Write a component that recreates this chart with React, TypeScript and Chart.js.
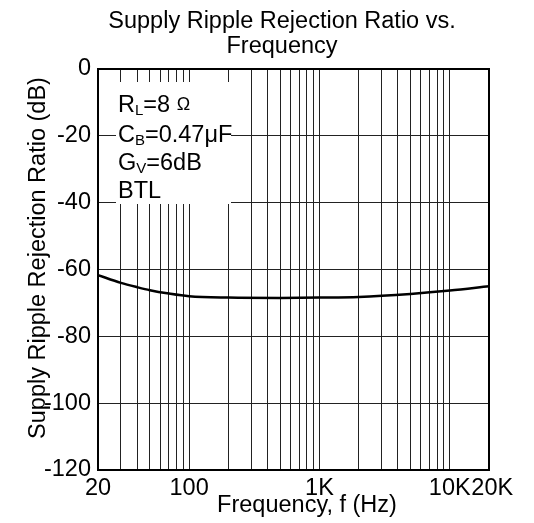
import React, { useEffect, useRef } from "react";
import { Chart, registerables } from "chart.js";

Chart.register(...registerables);

const freqHz = [20, 30, 40, 50, 70, 100, 200, 500, 1000, 2000, 5000, 10000, 20000];
const srrDb = [-61.7, -64.0, -65.3, -66.2, -67.2, -68.0, -68.4, -68.5, -68.4, -68.2, -67.3, -66.3, -65.0];

const gridFreqs = [
  20, 30, 40, 50, 60, 70, 80, 90, 100,
  200, 300, 400, 500, 600, 700, 800, 900, 1000,
  2000, 3000, 4000, 5000, 6000, 7000, 8000, 9000, 10000, 20000,
];
const xLabels: Record<number, string> = { 20: "20", 100: "100", 1000: "1K", 10000: "10K", 20000: " 20K" };
const yTicks = [0, -20, -40, -60, -80, -100, -120];

const titleLines = ["Supply Ripple Rejection Ratio vs.", "Frequency"];
const xTitle = "Frequency, f (Hz)";
const yTitle = "Supply Ripple Rejection Ratio (dB)";

const FONT = '"Liberation Sans", Arial, Helvetica, sans-serif';
const FS = 23.5;

const textPlugin = {
  id: "textPlugin",
  beforeDatasetsDraw(chart: any) {
    const ctx = chart.ctx;
    ctx.save();
    // white box behind the conditions text
    ctx.fillStyle = "#ffffff";
    ctx.fillRect(116, 82, 115, 122);
    ctx.fillStyle = "#000";
    ctx.textBaseline = "alphabetic";
    ctx.textAlign = "left";
    const big = `${FS}px ${FONT}`;
    const sub = `15px ${FONT}`;
    const drawParts = (parts: [string, string, number][], x: number, y: number) => {
      let cx = x;
      for (const [t, f, dy] of parts) {
        ctx.font = f;
        ctx.fillText(t, cx, y + dy);
        cx += ctx.measureText(t).width;
      }
    };
    drawParts([["R", big, 0], ["L", sub, 3], ["=8 ", big, 0], ["\u03A9", `18px ${FONT}`, -2]], 118, 112);
    drawParts([["C", big, 0], ["B", sub, 3], ["=0.47\u03BCF", big, 0]], 118, 142);
    drawParts([["G", big, 0], ["V", sub, 3], ["=6dB", big, 0]], 118, 170);
    drawParts([["BTL", big, 0]], 118, 198);
    ctx.restore();
  },
  afterDraw(chart: any) {
    const ctx = chart.ctx;
    const a = chart.chartArea;
    ctx.save();
    ctx.strokeStyle = "#000";
    ctx.lineWidth = 2;
    ctx.strokeRect(a.left, a.top, a.right - a.left, a.bottom - a.top);
    ctx.fillStyle = "#000";
    ctx.font = `${FS}px ${FONT}`;
    ctx.textAlign = "center";
    ctx.textBaseline = "alphabetic";
    ctx.fillText(titleLines[0], 282, 28);
    ctx.fillText(titleLines[1], 282, 53);
    ctx.fillText(xTitle, 307, 512);
    ctx.translate(45, 258);
    ctx.rotate(-Math.PI / 2);
    ctx.fillText(yTitle, 0, 0);
    ctx.restore();
  },
};

export default function App() {
  const ref = useRef<HTMLCanvasElement | null>(null);
  useEffect(() => {
    if (!ref.current) return;
    const chart = new Chart(ref.current, {
      type: "line",
      data: {
        datasets: [
          {
            data: freqHz.map((f, i) => ({ x: f, y: srrDb[i] })),
            borderColor: "#000",
            borderWidth: 2.5,
            pointRadius: 0,
            cubicInterpolationMode: "monotone",
            fill: false,
          },
        ],
      },
      options: {
        animation: false,
        responsive: false,
        events: [],
        layout: { padding: { left: 0, right: 45, top: 69, bottom: 0 } },
        plugins: { legend: { display: false }, tooltip: { enabled: false }, title: { display: false } },
        scales: {
          x: {
            type: "logarithmic",
            min: 20,
            max: 20000,
            afterBuildTicks: (scale: any) => {
              scale.ticks = gridFreqs.map((v) => ({ value: v }));
            },
            afterFit: (scale: any) => {
              scale.height = 53;
            },
            grid: { color: "#222", lineWidth: 1, drawTicks: false },
            border: { display: false },
            ticks: {
              autoSkip: false,
              maxRotation: 0,
              minRotation: 0,
              padding: 4,
              color: "#000",
              font: { family: FONT, size: FS },
              callback: (v: any) => (xLabels[Number(v)] !== undefined ? xLabels[Number(v)] : ""),
            },
          },
          y: {
            type: "linear",
            min: -120,
            max: 0,
            afterBuildTicks: (scale: any) => {
              scale.ticks = yTicks.map((v) => ({ value: v }));
            },
            afterFit: (scale: any) => {
              scale.width = 98;
            },
            grid: { color: "#222", lineWidth: 1, drawTicks: false },
            border: { display: false },
            ticks: {
              padding: 7,
              color: "#000",
              font: { family: FONT, size: FS },
              callback: (v: any) => String(v),
            },
          },
        },
      },
      plugins: [textPlugin],
    } as any);
    return () => chart.destroy();
  }, []);
  return (
    <div style={{ position: "absolute", left: 0, top: 0, width: 534, height: 523 }}>
      <canvas ref={ref} width={534} height={523} />
    </div>
  );
}
